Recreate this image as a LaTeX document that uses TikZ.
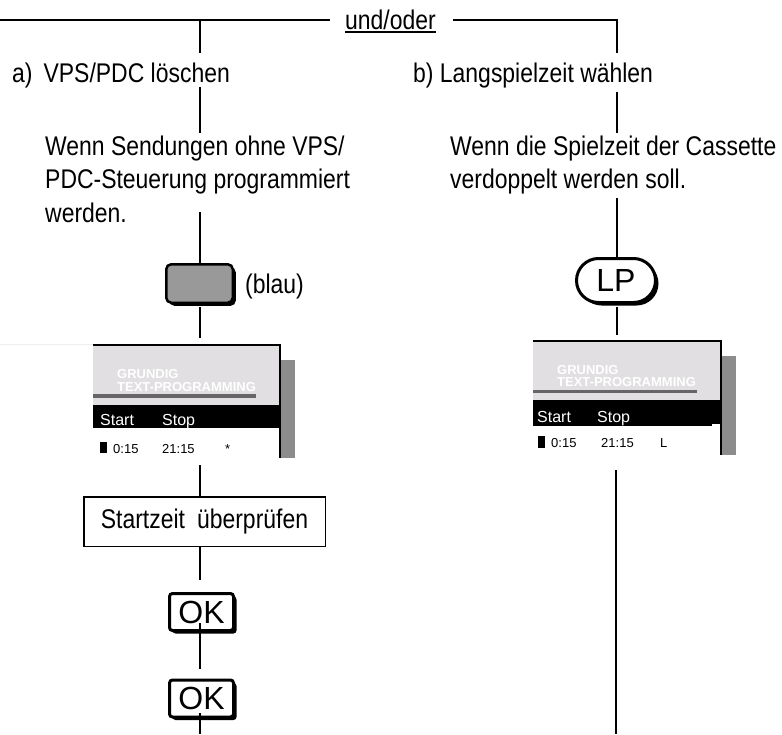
\documentclass[tikz,border=0pt]{standalone}
\usepackage{fontspec}
\setmainfont{Liberation Sans}
\newfontfamily\condfont[FakeStretch=0.85]{Liberation Sans}
\usetikzlibrary{shadows}
\definecolor{panelgray}{HTML}{E1DFE1}
\definecolor{bargray}{HTML}{666666}
\definecolor{shadegray}{HTML}{8C8C8C}
\definecolor{btngray}{HTML}{999999}
\definecolor{faintgray}{HTML}{EEEEEE}
\tikzset{
  lbl/.style={inner sep=0pt, anchor=base west, font=\condfont\fontsize{27}{33}\selectfont},
  conn/.style={line width=1.6pt},
  keybtn/.style={draw, line width=3pt, fill=white, rounded corners=3pt,
    drop shadow={shadow xshift=3pt, shadow yshift=-3pt, opacity=1, fill=black},
    font=\fontsize{32}{32}\selectfont, inner sep=0pt},
  scrtitle/.style={inner sep=0pt, anchor=base west, text=white, font=\bfseries\fontsize{13}{13}\selectfont},
  scrhead/.style={inner sep=0pt, anchor=base west, text=white, font=\fontsize{16}{16}\selectfont},
  scrrow/.style={inner sep=0pt, anchor=base west, font=\fontsize{13}{13}\selectfont},
}
\begin{document}
\begin{tikzpicture}[x=1pt,y=-1pt]
\useasboundingbox (0,0) rectangle (782,734);

% ---------- screens ----------
\draw[faintgray, line width=0.8pt] (0,344) -- (93,344);
\begin{scope}[shift={(93,345)}]
  \fill[shadegray] (187,15) rectangle (202,113);
  \fill[panelgray] (0,0) rectangle (187,60);
  \fill[bargray] (0,49) rectangle (163,53);
  \fill[black] (0,60) rectangle (187,83);
  \draw[line width=1.2pt] (0,0) -- (187,0) -- (187,113);
  \node[scrtitle] (sLa) at (24,33) {GRUNDIG};
  \node[scrtitle] (sLb) at (24,46) {TEXT-PROGRAMMING};
  \node[scrhead] (sLc) at (7,80) {Start};
  \node[scrhead] (sLd) at (69,80) {Stop};
  \fill[black] (7,97) rectangle (14,108);
  \node[scrrow] (sLe) at (20,108) {0:15};
  \node[scrrow] (sLf) at (69,108) {21:15};
  \node[scrrow] (sLg) at (132,108) {*};
\end{scope}

\begin{scope}[shift={(533,341)}]
  \fill[shadegray] (188,15) rectangle (203,114);
  \fill[panelgray] (0,0) rectangle (188,59);
  \fill[bargray] (0,49) rectangle (164,52);
  \fill[black] (0,59) rectangle (188,85);
  \fill[white] (179,83) rectangle (187.4,85.2);
  \draw[line width=1.2pt] (0,0) -- (188,0) -- (188,114);
  \node[scrtitle] (sRa) at (24,33) {GRUNDIG};
  \node[scrtitle] (sRb) at (24,45) {TEXT-PROGRAMMING};
  \node[scrhead] (sRc) at (4,81) {Start};
  \node[scrhead] (sRd) at (64,81) {Stop};
  \fill[black] (5,95) rectangle (12,107);
  \node[scrrow] (sRe) at (18,106) {0:15};
  \node[scrrow] (sRf) at (68,106) {21:15};
  \node[scrrow] (sRg) at (127,106) {L};
\end{scope}

% ---------- texts ----------
\node[lbl] (und) at (345,29) {und/oder};
\draw[line width=1.3pt] ([yshift=-3pt]und.base west) -- ([yshift=-3pt]und.base east);
\node[lbl] (ta) at (12,82) {a)\hspace{11pt}VPS/PDC löschen};
\node[lbl] (tb) at (413,82) {b) Langspielzeit wählen};
\node[lbl] (wa1) at (45,155) {Wenn Sendungen ohne VPS/};
\node[lbl] (wa2) at (45,188.5) {PDC-Steuerung programmiert};
\node[lbl] (wa3) at (45,222) {werden.};
\node[lbl] (wb1) at (450,155) {Wenn die Spielzeit der Cassette};
\node[lbl] (wb2) at (450,188.5) {verdoppelt werden soll.};
\node[lbl] (blau) at (245,293) {(blau)};

% ---------- keys ----------
\node[keybtn, fill=btngray, rounded corners=5pt, line width=2.5pt,
      minimum width=66.5pt, minimum height=38.5pt] (blue) at (199.5,283.5) {};
\node[keybtn, rounded corners=22pt, minimum width=79pt, minimum height=44pt] (lp) at (616,280.5) {LP};
\node[draw, line width=1.5pt, minimum width=241.5pt, minimum height=49.5pt, inner sep=0pt,
      font=\condfont\fontsize{27}{33}\selectfont] (check) at (204.5,521.5) {Startzeit\hspace{12pt}überprüfen};
\node[keybtn, minimum width=64pt, minimum height=37pt] (ok1) at (201.5,612) {OK};
\node[keybtn, minimum width=64pt, minimum height=37pt] (ok2) at (201.5,698.5) {OK};

% ---------- connectors ----------
\coordinate (topL) at (0,20);
\coordinate (topM) at (330,20);
\coordinate (topR) at (453,20);
\coordinate (cornerR) at (617,20);
\draw[conn] (topL) -- (topM);
\draw[conn] (topR) -- (cornerR) -- (617,53);
\draw[conn] (200,20) -- (200,53);
\draw[conn] (200,87) -- (200,133);
\draw[conn] (200,212) -- (blue.north -| 200,0);
\draw[conn] (200,307) -- (200,338);
\draw[conn] (200,465) -- (check.north -| 200,0);
\draw[conn] (check.south -| 200,0) -- (200,580);
\draw[conn] (200,623) -- (200,669);
\draw[conn] (200,713) -- (200,734);

\draw[conn] (617,92) -- (617,133);
\draw[conn] (617,198) -- (lp.north -| 617,0);
\draw[conn] (617,307) -- (617,335);
\draw[conn] (616,470) -- (616,734);
\end{tikzpicture}
\end{document}
